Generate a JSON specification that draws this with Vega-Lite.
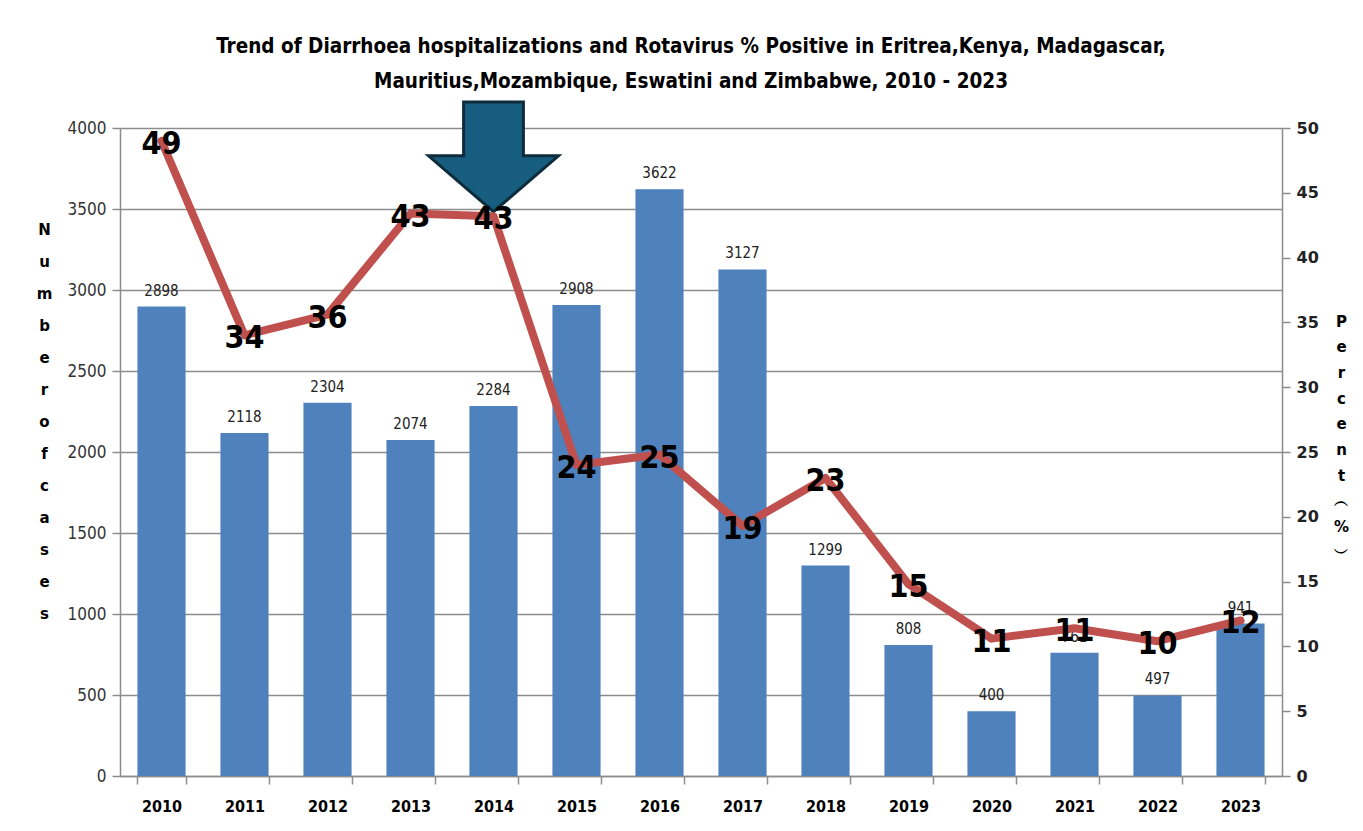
{
  "$schema": "https://vega.github.io/schema/vega-lite/v6.json",
  "width": 1162,
  "height": 648,
  "autosize": {"type": "none"},
  "padding": {"left": 120, "top": 128, "right": 81, "bottom": 55},
  "background": "white",
  "title": {
    "text": ["Trend of Diarrhoea hospitalizations and Rotavirus % Positive in Eritrea,Kenya,  Madagascar,", "Mauritius,Mozambique, Eswatini and Zimbabwe, 2010 - 2023"],
    "font": "DejaVu Sans Condensed, Liberation Sans, sans-serif",
    "fontSize": 20.5,
    "fontWeight": "bold",
    "lineHeight": 35,
    "offset": 3,
    "color": "black",
    "dx": -10
  },
  "data": {
    "values": [
      {"year": "2010", "cases": 2898, "pct": 49},
      {"year": "2011", "cases": 2118, "pct": 34},
      {"year": "2012", "cases": 2304, "pct": 35.6},
      {"year": "2013", "cases": 2074, "pct": 43.4},
      {"year": "2014", "cases": 2284, "pct": 43.2},
      {"year": "2015", "cases": 2908, "pct": 24},
      {"year": "2016", "cases": 3622, "pct": 24.8},
      {"year": "2017", "cases": 3127, "pct": 19.3},
      {"year": "2018", "cases": 1299, "pct": 23},
      {"year": "2019", "cases": 808, "pct": 14.8},
      {"year": "2020", "cases": 400, "pct": 10.6},
      {"year": "2021", "cases": 761, "pct": 11.4},
      {"year": "2022", "cases": 497, "pct": 10.4},
      {"year": "2023", "cases": 941, "pct": 12}
    ]
  },
  "encoding": {
    "x": {
      "field": "year",
      "type": "nominal",
      "scale": {"paddingInner": 0.42, "paddingOuter": 0.21},
      "axis": {
        "title": null,
        "labelAngle": 0,
        "labelFont": "DejaVu Sans Condensed, Liberation Sans, sans-serif",
        "labelFontSize": 16,
        "labelFontWeight": "bold",
        "labelColor": "black",
        "labelPadding": 14,
        "tickBand": "extent",
        "tickSize": 8,
        "tickColor": "#8c8c8c",
        "tickWidth": 1.5,
        "domainColor": "#8c8c8c",
        "domainWidth": 1.5,
        "grid": false
      }
    }
  },
  "layer": [
    {
      "layer": [
        {
          "mark": {"type": "bar", "color": "#4F81BD"},
          "encoding": {
            "y": {
              "field": "cases",
              "type": "quantitative",
              "scale": {"domain": [0, 4000], "nice": false},
              "axis": {
                "values": [0, 500, 1000, 1500, 2000, 2500, 3000, 3500, 4000],
                "format": "d",
                "title": ["N", "u", "m", "b", "e", "r", " ", "o", "f", " ", "c", "a", "s", "e", "s"],
                "titleAngle": 0,
                "titleAlign": "center",
                "titleBaseline": "top",
                "titleX": -76,
                "titleY": 94,
                "titleLineHeight": 32,
                "titleFont": "DejaVu Sans, sans-serif",
                "titleFontSize": 15,
                "titleFontWeight": "bold",
                "titleColor": "black",
                "labelFont": "DejaVu Sans Condensed, Liberation Sans, sans-serif",
                "labelFontSize": 17,
                "labelColor": "#333333",
                "labelPadding": 6,
                "tickSize": 8,
                "tickColor": "#8c8c8c",
                "tickWidth": 1.5,
                "domainColor": "#8c8c8c",
                "domainWidth": 1.5,
                "grid": true,
                "gridColor": "#8c8c8c",
                "gridWidth": 1.5
              }
            }
          }
        },
        {
          "mark": {"type": "text", "baseline": "bottom", "dy": -8, "font": "DejaVu Sans Condensed, Liberation Sans, sans-serif", "fontSize": 15, "color": "#222222"},
          "encoding": {
            "y": {"field": "cases", "type": "quantitative"},
            "text": {"field": "cases", "type": "quantitative", "format": "d"}
          }
        },
        {
          "data": {"values": [{}]},
          "mark": {
            "type": "point",
            "shape": "M -0.46 -0.85 L 0.46 -0.85 L 0.46 -0.02 L 1 -0.02 L 0 0.84 L -1 -0.02 L -0.46 -0.02 Z",
            "size": 16900,
            "filled": true,
            "fill": "#175D7F",
            "stroke": "#0E2C3B",
            "strokeWidth": 3,
            "opacity": 1
          },
          "encoding": {
            "x": {"datum": "2014"},
            "y": {"datum": 3820}
          }
        }
      ]
    },
    {
      "layer": [
        {
          "mark": {"type": "line", "color": "#C0504D", "strokeWidth": 8, "strokeJoin": "round", "strokeCap": "round"},
          "encoding": {
            "y": {
              "field": "pct",
              "type": "quantitative",
              "scale": {"domain": [0, 50], "nice": false},
              "axis": {
                "orient": "right",
                "values": [0, 5, 10, 15, 20, 25, 30, 35, 40, 45, 50],
                "title": ["P", "e", "r", "c", "e", "n", "t", " ", " ", "︵", "%", "︶"],
                "titleAngle": 0,
                "titleAlign": "center",
                "titleBaseline": "top",
                "titleX": 59,
                "titleY": 186,
                "titleLineHeight": 25.7,
                "titleFont": "DejaVu Sans, sans-serif",
                "titleFontSize": 15,
                "titleFontWeight": "bold",
                "titleColor": "black",
                "labelFont": "DejaVu Sans, sans-serif",
                "labelFontSize": 16,
                "labelFontWeight": "bold",
                "labelColor": "#222222",
                "labelPadding": 6,
                "tickSize": 8,
                "tickColor": "#8c8c8c",
                "tickWidth": 1.5,
                "domainColor": "#8c8c8c",
                "domainWidth": 1.5,
                "grid": false
              }
            }
          }
        },
        {
          "mark": {"type": "text", "baseline": "middle", "dy": 3, "font": "DejaVu Sans Condensed, Liberation Sans, sans-serif", "fontSize": 32, "fontWeight": "bold", "color": "black"},
          "encoding": {
            "y": {"field": "pct", "type": "quantitative"},
            "text": {"field": "pct", "type": "quantitative", "format": ".0f"}
          }
        }
      ]
    }
  ],
  "resolve": {"scale": {"y": "independent"}}
}
